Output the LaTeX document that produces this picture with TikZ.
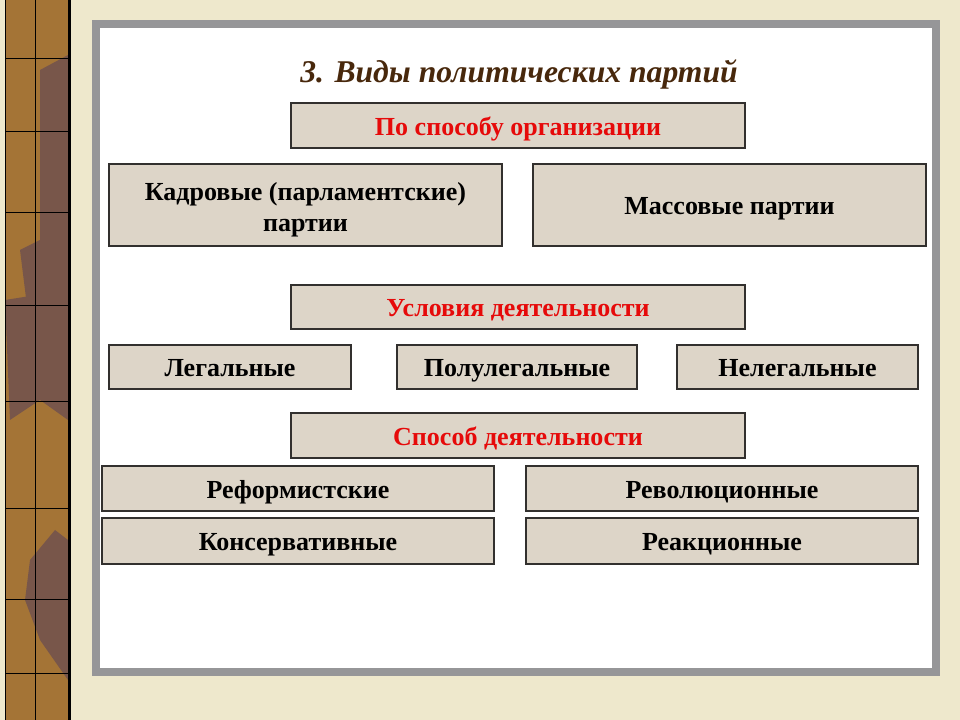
\documentclass[tikz,border=0pt]{standalone}
\usepackage{fontspec}
\setmainfont{Liberation Serif}
\definecolor{parch}{RGB}{238,232,204}
\definecolor{strip}{RGB}{164,116,54}
\definecolor{stripdark}{RGB}{120,86,74}
\definecolor{panelgray}{RGB}{150,150,152}
\definecolor{boxfill}{RGB}{221,213,200}
\definecolor{boxline}{RGB}{50,48,46}
\definecolor{titlebrown}{RGB}{72,40,12}
\definecolor{headred}{RGB}{230,10,10}
\begin{document}
\begin{tikzpicture}[x=0.025cm,y=-0.025cm]
              % Define styles for boxes and texts
              \tikzset{
                box node/.style={rectangle, draw=boxline, line width=1pt, fill=boxfill,
                  inner sep=0pt, align=center, text height=14.2pt, text depth=0pt,
                  font=\fontsize{18.5}{22.7}\selectfont\bfseries},
                head node/.style={box node, text=headred},
                title node/.style={font=\fontsize{22.5}{26}\selectfont\bfseries\itshape, text=titlebrown}
              }
              \useasboundingbox (0,0) rectangle (960,720);

              % Background and panel
              \fill[parch] (0,0) rectangle (960,720);
              \fill[strip] (5,0) rectangle (68,720);
              \fill[stripdark] (40,70) -- (68,55) -- (68,330) -- (30,330) -- (20,250) -- (40,240) -- cycle;
              \fill[stripdark] (5,300) -- (68,290) -- (68,420) -- (40,400) -- (10,420) -- cycle;
              \fill[stripdark] (30,560) -- (55,530) -- (68,540) -- (68,680) -- (40,640) -- (25,600) -- cycle;
              \foreach \yy in {58,131,212,305,401,508,599,673}
                \draw[black, line width=0.6pt] (5,\yy) -- (68,\yy);
              \draw[black, line width=0.6pt] (35,0) -- (35,720);
              \draw[black, line width=0.6pt] (5,0) -- (5,720);
              \fill[black] (68,0) rectangle (71,720);
              \fill[panelgray] (92,20) rectangle (940,676);
              \fill[white] (100,28) rectangle (932,668);

              % Title
              \node[title node] (title) at (519,74) {3. Виды политических партий};

              % First group
              \node[head node, minimum width=11.35cm, minimum height=1.125cm] (org) at (518,125.5) {По способу организации};
              \node[box node, text height=38.3pt, minimum width=9.825cm, minimum height=2.05cm] (kadr) at (305.5,205) {Кадровые (парламентские)\\партии};
              \node[box node, minimum width=9.825cm, minimum height=2.05cm] (mass) at (729.5,205) {Массовые партии};

              % Second group
              \node[head node, minimum width=11.35cm, minimum height=1.1cm] (usl) at (518,307) {Условия деятельности};
              \node[box node, minimum width=6.05cm, minimum height=1.1cm] (leg) at (230,367) {Легальные};
              \node[box node, minimum width=6.0cm, minimum height=1.1cm] (polu) at (517,367) {Полулегальные};
              \node[box node, minimum width=6.025cm, minimum height=1.1cm] (neleg) at (797.5,367) {Нелегальные};

              % Third group
              \node[head node, minimum width=11.35cm, minimum height=1.125cm] (spos) at (518,435.5) {Способ деятельности};
              \node[box node, minimum width=9.8cm, minimum height=1.125cm] (reform) at (298,488.5) {Реформистские};
              \node[box node, minimum width=9.8cm, minimum height=1.125cm] (revol) at (722,488.5) {Революционные};
              \node[box node, minimum width=9.8cm, minimum height=1.15cm] (konserv) at (298,541) {Консервативные};
              \node[box node, minimum width=9.8cm, minimum height=1.15cm] (reakc) at (722,541) {Реакционные};
            \end{tikzpicture}
\end{document}
